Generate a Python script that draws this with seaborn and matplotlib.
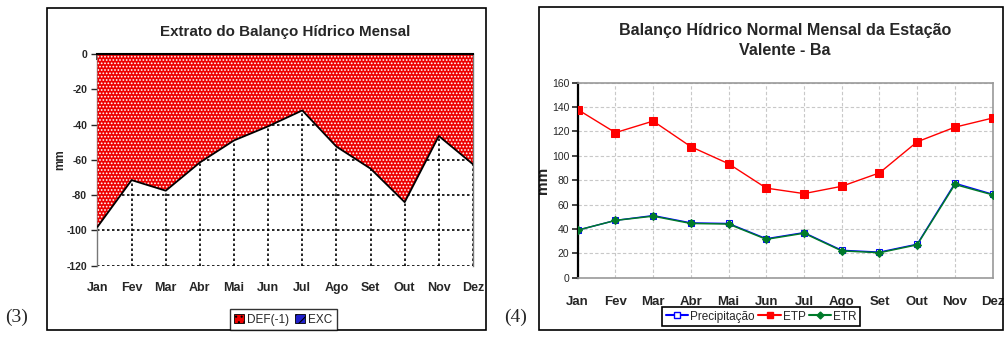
import seaborn as sb
import matplotlib.pyplot as plt
import pandas as pd
from matplotlib.patches import Patch, Rectangle
from matplotlib.lines import Line2D

meses = ["Jan", "Fev", "Mar", "Abr", "Mai", "Jun", "Jul", "Ago", "Set", "Out", "Nov", "Dez"]

# (3) deficit (-1)
deficit = [-98, -71.5, -77.5, -61.5, -49, -41, -32, -52.5, -65, -84, -46.5, -62.5]

# (4) balanco hidrico normal
precipitacao = [39, 47, 51, 45, 44.5, 32, 37, 22.5, 21, 27.5, 77.5, 68.5]
etp = [138, 119, 128.5, 107.5, 93.5, 73.5, 69, 75, 86, 111.5, 123.5, 131]
etr = [39, 47, 50.5, 44.5, 44, 31.5, 36.5, 22, 20.5, 27, 76.5, 68]

sb.set_style("white")
plt.rcParams["font.family"] = ["Liberation Sans", "DejaVu Sans"]
plt.rcParams["hatch.color"] = "white"
plt.rcParams["hatch.linewidth"] = 0.8
plt.rcParams["axes.unicode_minus"] = False

fig = plt.figure(figsize=(10.05, 3.43), dpi=100)

# outer frames + panel labels
fig.patches.append(Rectangle((0.0468, 0.038), 0.4368, 0.9388, transform=fig.transFigure,
                             fill=False, edgecolor="black", linewidth=1.2))
fig.patches.append(Rectangle((0.5363, 0.038), 0.4620, 0.9417, transform=fig.transFigure,
                             fill=False, edgecolor="black", linewidth=1.2))
fig.text(0.005, 0.06, "(3)", fontsize=14, family="Liberation Serif")
fig.text(0.502, 0.06, "(4)", fontsize=14, family="Liberation Serif")

# ---------------- (3) ----------------
dfa = pd.DataFrame({"mes": meses, "def": deficit})
ax1 = fig.add_axes([0.0970, 0.2254, 0.3736, 0.6172])
ax1.fill_between(dfa["mes"], dfa["def"], 0, facecolor="#ee0000", edgecolor="white",
                 hatch=".....", linewidth=0, zorder=3)
sb.lineplot(x="mes", y="def", data=dfa, color="black", linewidth=1.3, ax=ax1, zorder=4)
ax1.set_xlim(0, 11)
ax1.set_ylim(-120, 0)
ax1.set_yticks(range(-120, 1, 20))
ax1.grid(True, color="black", linestyle=(0, (1.5, 1.5)), linewidth=1.2, zorder=1)
ax1.set_axisbelow(True)
for s in ["left", "right", "bottom"]:
    ax1.spines[s].set_color("#777777")
    ax1.spines[s].set_linewidth(1)
ax1.spines["bottom"].set_visible(False)
ax1.spines["top"].set_color("black")
ax1.spines["top"].set_linewidth(1.5)
ax1.spines["top"].set_zorder(5)
ax1.tick_params(axis="x", top=True, bottom=False, direction="in", length=4, width=1.2,
                labelbottom=True, labelsize=9, pad=12)
ax1.tick_params(axis="y", left=True, direction="out", length=4, width=1, labelsize=7.5)
for t in ax1.get_xticklabels() + ax1.get_yticklabels():
    t.set_fontweight("bold")
ax1.set_xlabel("")
ax1.set_ylabel("mm", fontsize=8.5, fontweight="bold", labelpad=0)
ax1.set_title("Extrato do Balanço Hídrico Mensal", fontsize=10.9, fontweight="bold", pad=13)
fig.legend(handles=[Patch(facecolor="#ee0000", edgecolor="black", hatch="...", linewidth=0.6, label="DEF(-1)"),
                    Patch(facecolor="#2020cc", edgecolor="black", hatch="///", linewidth=0.6, label="EXC")],
           loc="center", bbox_to_anchor=(0.282, 0.068), ncol=2, fontsize=8.5, frameon=True,
           fancybox=False, edgecolor="black", handlelength=0.8, handleheight=0.8,
           handletextpad=0.3, columnspacing=0.5, borderpad=0.4).get_frame().set_linewidth(1)

# ---------------- (4) ----------------
dfb = pd.DataFrame({"mes": meses, "Precipitação": precipitacao, "ETP": etp, "ETR": etr})
ax2 = fig.add_axes([0.5748, 0.1904, 0.4129, 0.5685])
sb.lineplot(x="mes", y="Precipitação", data=dfb, color="#0000ff", marker="s", markersize=5,
            markerfacecolor="white", markeredgecolor="#0000ff", linewidth=1, ax=ax2, zorder=3)
sb.lineplot(x="mes", y="ETP", data=dfb, color="#ff0000", marker="s", markersize=5.5,
            markeredgecolor="#ff0000", linewidth=1, ax=ax2, zorder=3)
sb.lineplot(x="mes", y="ETR", data=dfb, color="#007a2a", marker="D", markersize=4.5,
            markeredgecolor="#007a2a", linewidth=1.1, ax=ax2, zorder=4)
ax2.set_xlim(0, 11)
ax2.set_ylim(0, 160)
ax2.set_yticks(range(0, 161, 20))
ax2.grid(True, color="#c8c8c8", linestyle=(0, (3, 2)), linewidth=0.8)
for s in ["right", "top", "bottom"]:
    ax2.spines[s].set_color("#999999")
    ax2.spines[s].set_linewidth(1.2)
ax2.spines["left"].set_color("black")
ax2.spines["left"].set_linewidth(1.6)
ax2.tick_params(axis="x", bottom=False, labelsize=9.5, pad=10)
ax2.tick_params(axis="y", left=True, direction="out", length=4, width=1.2, labelsize=7.5, pad=2)
for t in ax2.get_xticklabels():
    t.set_fontweight("bold")
ax2.set_xlabel("")
ax2.set_ylabel("mm", fontsize=11, fontweight="bold", labelpad=1)
ax2.set_title("Balanço Hídrico Normal Mensal da Estação\nValente - Ba", fontsize=11.6,
              fontweight="bold", pad=20, linespacing=1.45)
fig.legend(handles=[Line2D([], [], color="#0000ff", marker="s", markersize=4, markerfacecolor="white", label="Precipitação"),
                    Line2D([], [], color="#ff0000", marker="s", markersize=4, label="ETP"),
                    Line2D([], [], color="#007a2a", marker="D", markersize=3.5, label="ETR")],
           loc="center", bbox_to_anchor=(0.7575, 0.077), ncol=3, fontsize=8.5, frameon=True,
           fancybox=False, edgecolor="black", handlelength=1.9, handletextpad=0.15,
           columnspacing=0.3, borderpad=0.3, facecolor="white", framealpha=1).get_frame().set_linewidth(1.2)

fig.savefig("out.png", dpi=100)
